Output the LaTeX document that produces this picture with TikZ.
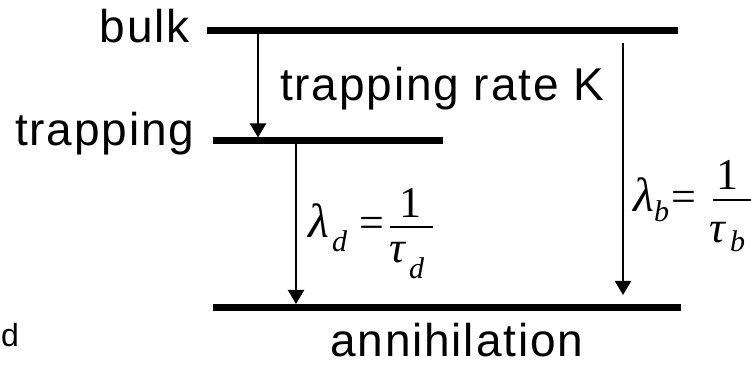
\documentclass[tikz,border=0pt]{standalone}
\usepackage{fontspec}
\usetikzlibrary{arrows.meta}
\newfontfamily\labfont{Liberation Sans}[LetterSpace=4]
\newfontfamily\eqfont{Liberation Serif}
\tikzset{
  level/.style={line width=7pt},
  trans/.style={line width=2pt,-{Triangle[length=14pt,width=16pt]}},
  lab/.style={inner sep=0pt,font=\labfont\fontsize{46}{50}\selectfont},
  small/.style={inner sep=0pt,font=\labfont\fontsize{32}{36}\selectfont},
  eqbig/.style={inner sep=0pt,font=\eqfont\fontsize{44}{48}\selectfont},
  eqsub/.style={inner sep=0pt,font=\eqfont\itshape\fontsize{30}{34}\selectfont},
  fracbar/.style={line width=2pt},
}
\begin{document}
\begin{tikzpicture}[x=1pt,y=1pt]
\useasboundingbox (0,0) rectangle (751,366);
% levels
\coordinate (bulkL) at (207,335.5);
\coordinate (bulkR) at (678,335.5);
\coordinate (trapL) at (213,225);
\coordinate (trapR) at (443,225);
\coordinate (annL) at (213,58);
\coordinate (annR) at (681,58);
\draw[level] (bulkL) -- (bulkR);
\draw[level] (trapL) -- (trapR);
\draw[level] (annL) -- (annR);
% arrows
\coordinate (k1) at (258,332);
\coordinate (k2) at (258,228.5);
\coordinate (d1) at (296,222);
\coordinate (d2) at (296,62);
\coordinate (b1) at (623,323);
\coordinate (b2) at (623,71);
\draw[trans] (k1) -- (k2);
\draw[trans] (d1) -- (d2);
\draw[trans] (b1) -- (b2);
% labels
\node[lab,anchor=base east] (bulk) at (190,323) {bulk};
\node[lab,anchor=base west] (trapping) at (15,220) {trapping};
\node[lab,anchor=base west] (rate) at (280,265) {trapping rate K};
\node[lab,anchor=base west] (ann) at (330,9) {annihilation};
\node[small,anchor=base west] (dd) at (1,19) {d};
% lambda_d = 1/tau_d
\node[eqbig,anchor=base west,font=\eqfont\itshape\fontsize{48}{52}\selectfont] (lamd) at (308,128) {λ};
\node[eqsub,anchor=base west] (lamdsub) at (332,114) {d};
\node[eqbig,anchor=base] (eqd) at (371.5,128) {=};
\coordinate (bardL) at (390,139);
\coordinate (bardR) at (433,139);
\draw[fracbar] (bardL) -- (bardR);
\node[eqbig,anchor=base] (oned) at (410,148) {1};
\node[eqbig,anchor=base west,font=\eqfont\itshape\fontsize{44}{48}\selectfont] (taud) at (389,103) {τ};
\node[eqsub,anchor=base west] (taudsub) at (409,87) {d};
% lambda_b = 1/tau_b
\node[eqbig,anchor=base west,font=\eqfont\itshape\fontsize{48}{52}\selectfont] (lamb) at (633,154) {λ};
\node[eqsub,anchor=base west] (lambsub) at (654,144) {b};
\node[eqbig,anchor=base] (eqb) at (683.5,154) {=};
\coordinate (barbL) at (713,166);
\coordinate (barbR) at (751,166);
\draw[fracbar] (barbL) -- (barbR);
\node[eqbig,anchor=base] (oneb) at (727.5,176) {1};
\node[eqbig,anchor=base west,font=\eqfont\itshape\fontsize{44}{48}\selectfont] (taub) at (709,123) {τ};
\node[eqsub,anchor=base west] (taubsub) at (730,114) {b};
\end{tikzpicture}
\end{document}
